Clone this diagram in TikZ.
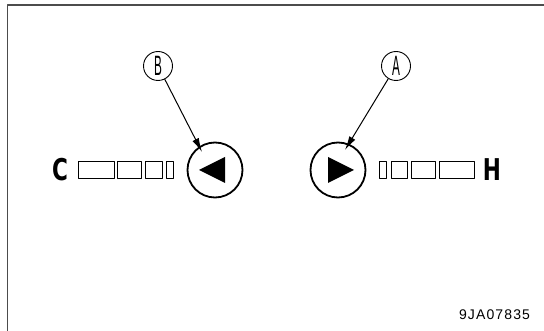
\documentclass[tikz,border=0pt]{standalone}
\usepackage{fontspec}
\setmainfont{Liberation Sans}
\newfontfamily\codefont[LetterSpace=8]{Liberation Sans}
\newfontfamily\markfont{DejaVu Sans}
\usetikzlibrary{arrows.meta}

\tikzset{
  lamp/.style={circle, draw, line width=1.8pt, minimum size=55pt, inner sep=0pt},
  callout/.style={circle, draw, line width=0.9pt, minimum size=29pt, inner sep=0pt},
  pointer/.style={line width=1pt, -{Latex[length=14pt,width=7pt]}},
  seg/.style={draw, line width=0.9pt},
  endmark/.style={inner sep=0pt, font=\markfont\fontsize{30}{30}\selectfont\bfseries}
}

\begin{document}
\begin{tikzpicture}[x=1pt, y=-1pt, line cap=round, line join=round]
		
		\useasboundingbox (0,0) rectangle (544,331);
		
		% Frame of the figure
		\draw[line width=1.8pt, black!70] (7.5,331) -- (7.5,5) -- (544,5);
		
		% The two indicator lamps
		\node[lamp] (lampL) at (215,170) {};
		\node[lamp] (lampR) at (338,170) {};
		\fill ([xshift=-16pt]lampL.center) -- ++(26,-13) -- ++(0,26) -- cycle;
		\fill ([xshift=16pt]lampR.center) -- ++(-26,-13) -- ++(0,26) -- cycle;
		
		% Gauge segments towards C
		\foreach \xa/\xb in {78.5/114, 117.5/141.5, 145.5/162, 166.5/173.5}
		\draw[seg] (\xa,161) rectangle (\xb,178);
		
		% Gauge segments towards H
		\foreach \xa/\xb in {379.5/386.5, 391/407.5, 411.5/435.5, 439/474.5}
		\draw[seg] (\xa,161) rectangle (\xb,178);
		
		% End labels
		\node[endmark] (cold) at (60,170) {\scalebox{0.72}[1]{C}};
		\node[endmark] (hot) at (492,170) {\scalebox{0.72}[1]{H}};
		
		% Callouts
		\node[callout] (B) at (158,66) {\fontsize{28}{28}\selectfont\scalebox{0.42}[1]{B}};
		\node[callout] (A) at (396,66) {\fontsize{28}{28}\selectfont\scalebox{0.42}[1]{A}};
		\coordinate (tipB) at (202,152);
		\coordinate (tipA) at (345,150);
		\draw[pointer] (B) -- (tipB);
		\draw[pointer] (A) -- (tipA);
		
		% Figure number
		\node (code) at (494.5,315) {\codefont\fontsize{14}{14}\selectfont 9JA07835};
		
	\end{tikzpicture}
\end{document}
